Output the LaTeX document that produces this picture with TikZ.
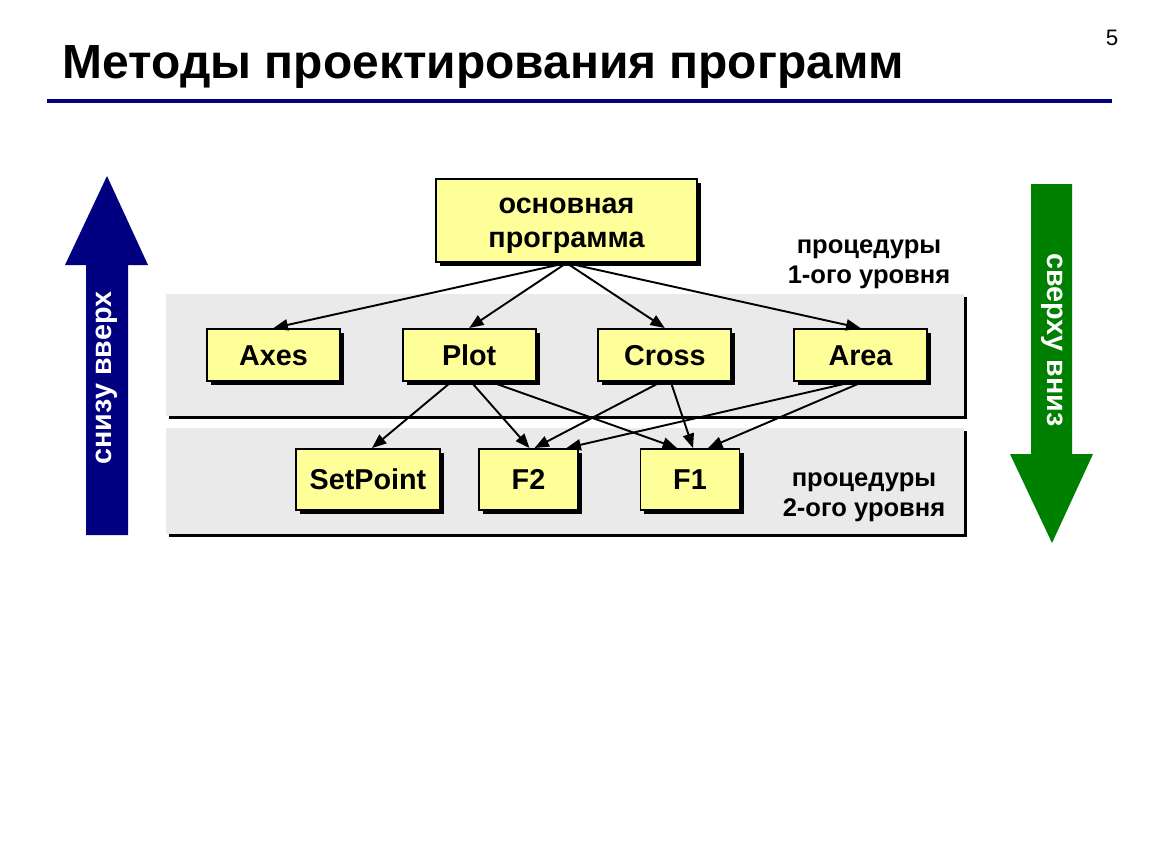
\documentclass[tikz,border=0pt]{standalone}
\usepackage{fontspec}
\setmainfont{Liberation Sans}
\usetikzlibrary{arrows.meta, shadows}
\tikzset{every picture/.style={line width=0.75pt}}

\definecolor{boxyellow}{HTML}{FFFF99}
\definecolor{bandgray}{HTML}{EAEAEA}
\definecolor{upblue}{HTML}{000080}
\definecolor{downgreen}{HTML}{008000}

\begin{document}
\begin{tikzpicture}[x=0.6261pt, y=-0.6261pt, node distance=122.5pt,
    every node/.style={font=\fontsize{18}{20}\selectfont\bfseries},
    proc/.style={draw, line width=1.2pt, fill=boxyellow, inner sep=0pt,
        minimum width=83.3pt, minimum height=32.6pt, text height=12.9pt, text depth=0.3pt,
        drop shadow={shadow xshift=2.5pt, shadow yshift=-2.5pt, opacity=1, fill=black}},
    band/.style={fill=bandgray,
        drop shadow={shadow xshift=1.9pt, shadow yshift=-1.9pt, opacity=1, fill=black}},
    levellabel/.style={align=center, font=\fontsize{16}{19}\selectfont\bfseries},
    call/.style={-{Triangle[length=9pt,width=7pt]}, line width=1.2pt}]
        \path[use as bounding box] (0,0) rectangle (1150,864);

        % title
        \node[anchor=base west, font=\fontsize{30}{36}\selectfont\bfseries] (title) at (57,78) {Методы проектирования программ};
        \node[font=\fontsize{14}{16}\selectfont] (pagenum) at (1112,38) {5};
        \draw[upblue, line width=2.5pt] (47,101) -- (1112,101);

        % levels
        \path[band] (166,294) rectangle (964,416);
        \path[band] (166,428) rectangle (964,534);

        % direction arrows
        \fill[upblue] (86,535) -- (128,535) -- (128,265) -- (148,265) -- (107,176) -- (65,265) -- (86,265) -- cycle;
        \node[white, rotate=90] (upword) at (107,378) {снизу вверх};
        \fill[downgreen] (1031,184) -- (1072,184) -- (1072,454) -- (1093,454) -- (1052,543) -- (1010,454) -- (1031,454) -- cycle;
        \node[white, rotate=-90] (downword) at (1052,340) {сверху вниз};

        \node[proc, align=center, minimum width=163.4pt, minimum height=52pt, text height=34.4pt, text depth=0pt,
            font=\fontsize{18}{21.3}\selectfont\bfseries] (main) at (566.5,220.5) {основная\\программа};
        \node[proc] (axes) at (273.5,355) {Axes};
        \node[proc, right of=axes] (plot) {Plot};
        \node[proc, right of=plot] (cross) {Cross};
        \node[proc, right of=cross] (area) {Area};
        \node[proc, minimum width=90pt, minimum height=38.2pt] (setp) at (368,479.5) {SetPoint};
        \node[proc, minimum width=62pt, minimum height=38.2pt] (ftwo) at (528.5,479.5) {F2};
        \node[proc, minimum width=62pt, minimum height=38.2pt] (fone) at (690,479.5) {F1};

        \node[levellabel] (lev1) at (869,264) {процедуры\\1-ого уровня};
        \node[levellabel] (lev2) at (864,497) {процедуры\\2-ого уровня};

        \draw[call] (main.south) -- (axes.north);
        \draw[call] (main.south) -- (plot.north);
        \draw[call] (main.south) -- (cross.north);
        \draw[call] (main.south) -- (area.north);
        \draw[call] ([shift={(-18,0)}]plot.south) -- ([shift={(4,0)}]setp.north);
        \draw[call] ([shift={(2,0)}]plot.south) -- ([shift={(1,0)}]ftwo.north);
        \draw[call] ([shift={(22,0)}]plot.south) -- ([shift={(-13,0)}]fone.north);
        \draw[call] ([shift={(-4,0)}]cross.south) -- ([shift={(6,0)}]ftwo.north);
        \draw[call] ([shift={(6,0)}]cross.south) -- ([shift={(3,0)}]fone.north);
        \draw[call] ([shift={(-8,0)}]area.south) -- ([shift={(38,0)}]ftwo.north);
        \draw[call] ([shift={(2,0)}]area.south) -- ([shift={(18,0)}]fone.north);
\end{tikzpicture}
\end{document}
